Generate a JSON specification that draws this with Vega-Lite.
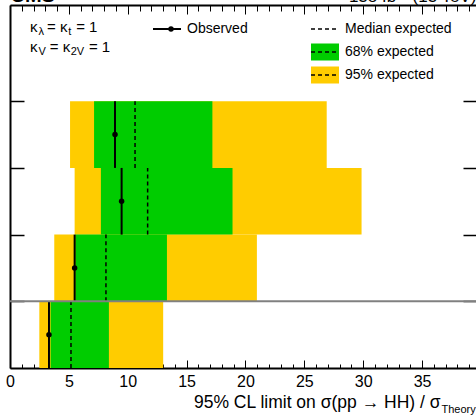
{
  "$schema": "https://vega.github.io/schema/vega-lite/v6.json",
  "width": 466,
  "height": 363,
  "autosize": {"type": "none"},
  "padding": {"left": 10, "top": 5, "right": 0, "bottom": 49},
  "config": {"font": "Liberation Sans", "view": {"stroke": null}, "axis": {"grid": false}},
  "data": {"values": [
    {"row": "A", "slot_lo": 3, "slot_hi": 4, "slot_mid": 3.5, "obs": 8.92, "med": 10.62, "lo68": 7.14, "hi68": 17.19, "lo95": 5.10, "hi95": 26.90},
    {"row": "B", "slot_lo": 2, "slot_hi": 3, "slot_mid": 2.5, "obs": 9.48, "med": 11.69, "lo68": 7.72, "hi68": 18.90, "lo95": 5.49, "hi95": 29.86},
    {"row": "C", "slot_lo": 1, "slot_hi": 2, "slot_mid": 1.5, "obs": 5.49, "med": 8.15, "lo68": 5.55, "hi68": 13.33, "lo95": 3.76, "hi95": 20.97},
    {"row": "D", "slot_lo": 0, "slot_hi": 1, "slot_mid": 0.5, "obs": 3.31, "med": 5.18, "lo68": 3.45, "hi68": 8.40, "lo95": 2.49, "hi95": 13.01}
  ]},
  "resolve": {"axis": {"x": "independent", "y": "independent"}},
  "layer": [
    {
      "mark": {"type": "rect"},
      "encoding": {
        "x": {"field": "lo95", "type": "quantitative",
          "scale": {"domain": [0, 39.58], "nice": false, "zero": false},
          "axis": {"orient": "bottom", "values": [0,1,2,3,4,5,6,7,8,9,10,11,12,13,14,15,16,17,18,19,20,21,22,23,24,25,26,27,28,29,30,31,32,33,34,35,36,37,38,39],
            "labelExpr": "datum.value % 5 === 0 ? datum.label : ''",
            "tickSize": {"condition": {"test": "datum.value % 5 === 0", "value": -8}, "value": -4},
            "tickColor": "black", "tickWidth": 1, "domainColor": "black", "domainWidth": 2,
            "labelFontSize": 16, "labelColor": "black", "labelPadding": 13, "labelFlush": false, "labelOverlap": false,
            "title": "95% CL limit on σ(pp → HH) / σ", "titleFontSize": 17.5, "titleFontWeight": "normal", "titleColor": "black",
            "titleX": 430, "titleY": 39, "titleAlign": "right", "titleBaseline": "alphabetic"}},
        "x2": {"field": "hi95"},
        "y": {"field": "slot_lo", "type": "quantitative",
          "scale": {"domain": [0, 5.443], "nice": false, "zero": false},
          "axis": {"orient": "left", "values": [1,2,3,4], "tickSize": -14, "tickWidth": 1.5, "tickColor": "black", "labels": false,
            "domainColor": "black", "domainWidth": 2,
            "title": "CMS", "titleAngle": 0, "titleX": 0, "titleY": -3.5, "titleAlign": "left", "titleBaseline": "alphabetic",
            "titleFontSize": 20, "titleFontWeight": "bold", "titleColor": "black"}},
        "y2": {"field": "slot_hi"},
        "fill": {"datum": "95% expected",
          "scale": {"domain": ["Median expected", "68% expected", "95% expected"], "range": ["transparent", "#00cc00", "#ffcc00"]},
          "legend": {"title": null, "orient": "none", "legendX": 301, "legendY": 14.5, "symbolType": "M-1,-0.6H1V0.6H-1Z", "symbolSize": 784,
            "symbolStrokeWidth": 0, "clipHeight": 19, "rowPadding": 4, "labelOffset": 6, "labelFontSize": 14, "labelColor": "black",
            "padding": 0, "symbolOffset": 0, "labelLimit": 250}}
      }
    },
    {
      "mark": {"type": "rect"},
      "encoding": {
        "x": {"field": "lo68", "type": "quantitative",
          "axis": {"orient": "top", "values": [0,1,2,3,4,5,6,7,8,9,10,11,12,13,14,15,16,17,18,19,20,21,22,23,24,25,26,27,28,29,30,31,32,33,34,35,36,37,38,39],
            "labels": false,
            "tickSize": {"condition": {"test": "datum.value % 5 === 0", "value": -9}, "value": -6},
            "tickColor": "black", "tickWidth": 1, "domainColor": "black", "domainWidth": 2,
            "title": "138 fb⁻¹ (13 TeV)", "titleFontSize": 17, "titleFontWeight": "normal", "titleColor": "black",
            "titleX": 466, "titleY": -3.5, "titleAlign": "right", "titleBaseline": "alphabetic"}},
        "x2": {"field": "hi68"},
        "y": {"field": "slot_lo", "type": "quantitative",
          "axis": {"orient": "right", "values": [1,2,3,4], "tickSize": -13, "tickWidth": 1.5, "tickColor": "black", "labels": false, "domain": false,
            "title": "Theory", "titleAngle": 0, "titleX": -35, "titleY": 407, "titleAlign": "left", "titleBaseline": "alphabetic",
            "titleFontSize": 11, "titleFontWeight": "normal", "titleColor": "black"}},
        "y2": {"field": "slot_hi"},
        "fill": {"datum": "68% expected"}
      }
    },
    {
      "mark": {"type": "rule", "strokeWidth": 1.5, "color": "black"},
      "encoding": {
        "x": {"field": "med", "type": "quantitative", "axis": null},
        "y": {"field": "slot_lo", "type": "quantitative", "axis": null},
        "y2": {"field": "slot_hi"},
        "strokeDash": {"datum": "d1",
          "scale": {"domain": ["d1", "d2", "d3"], "range": [[4, 3], [4, 3], [4, 3]]},
          "legend": {"title": null, "orient": "none", "legendX": 300, "legendY": 14.5, "symbolType": "stroke", "symbolSize": 784,
            "symbolStrokeWidth": 1.5, "symbolStrokeColor": "black", "clipHeight": 19, "rowPadding": 4, "labelOffset": 6,
            "labelFontSize": 14, "labelExpr": "''", "padding": 0, "symbolOffset": 0, "zindex": 1}}
      }
    },
    {
      "mark": {"type": "rule", "strokeWidth": 2, "color": "black"},
      "encoding": {
        "x": {"field": "obs", "type": "quantitative", "axis": null},
        "y": {"field": "slot_lo", "type": "quantitative", "axis": null},
        "y2": {"field": "slot_hi"},
        "opacity": {"datum": "Observed", "scale": {"domain": ["Observed"], "range": [1]},
          "legend": {"title": null, "orient": "none", "legendX": 142, "legendY": 14.5, "symbolType": "stroke", "symbolSize": 784,
            "symbolStrokeWidth": 2, "symbolStrokeColor": "black", "clipHeight": 19, "labelOffset": 5, "labelFontSize": 14,
            "labelColor": "black", "padding": 0, "symbolOffset": 0}}
      }
    },
    {
      "mark": {"type": "point", "filled": true, "size": 30, "color": "black", "opacity": 1},
      "encoding": {
        "x": {"field": "obs", "type": "quantitative", "axis": null},
        "y": {"field": "slot_mid", "type": "quantitative", "axis": null},
        "shape": {"datum": "dot", "scale": {"domain": ["dot"], "range": ["circle"]},
          "legend": {"title": null, "orient": "none", "legendX": 154, "legendY": 14.5,
            "symbolType": "circle", "symbolSize": 30, "symbolStrokeWidth": 0, "symbolFillColor": "black", "clipHeight": 19,
            "labelOffset": 5, "labelFontSize": 14, "labelExpr": "''", "padding": 0, "symbolOffset": 0, "zindex": 1,
            "encode": {"symbols": {"update": {"fill": {"value": "black"}, "opacity": {"value": 1}}}}}}
      }
    },
    {
      "data": {"values": [{}]},
      "mark": {"type": "rule", "color": "#808080", "strokeWidth": 2},
      "encoding": {"y": {"datum": 1, "type": "quantitative", "axis": null}}
    },
    {
      "data": {"values": [{}]},
      "mark": {"type": "text", "text": "κ", "fontSize": 15, "align": "left", "baseline": "alphabetic", "color": "black"},
      "encoding": {"x": {"datum": 1.699, "type": "quantitative", "axis": null}, "y": {"datum": 5.038, "type": "quantitative", "axis": null}}
    },
    {
      "data": {"values": [{}]},
      "mark": {"type": "text", "text": "λ", "fontSize": 11, "dy": 3, "align": "left", "baseline": "alphabetic", "color": "black"},
      "encoding": {"x": {"datum": 2.421, "type": "quantitative", "axis": null}, "y": {"datum": 5.038, "type": "quantitative", "axis": null}}
    },
    {
      "data": {"values": [{}]},
      "mark": {"type": "text", "text": "= κ", "fontSize": 15, "align": "left", "baseline": "alphabetic", "color": "black"},
      "encoding": {"x": {"datum": 3.142, "type": "quantitative", "axis": null}, "y": {"datum": 5.038, "type": "quantitative", "axis": null}}
    },
    {
      "data": {"values": [{}]},
      "mark": {"type": "text", "text": "t", "fontSize": 11, "dy": 3, "align": "left", "baseline": "alphabetic", "color": "black"},
      "encoding": {"x": {"datum": 4.95, "type": "quantitative", "axis": null}, "y": {"datum": 5.038, "type": "quantitative", "axis": null}}
    },
    {
      "data": {"values": [{}]},
      "mark": {"type": "text", "text": "= 1", "fontSize": 15, "align": "left", "baseline": "alphabetic", "color": "black"},
      "encoding": {"x": {"datum": 5.62, "type": "quantitative", "axis": null}, "y": {"datum": 5.038, "type": "quantitative", "axis": null}}
    },
    {
      "data": {"values": [{}]},
      "mark": {"type": "text", "text": "κ", "fontSize": 15, "align": "left", "baseline": "alphabetic", "color": "black"},
      "encoding": {"x": {"datum": 1.699, "type": "quantitative", "axis": null}, "y": {"datum": 4.738, "type": "quantitative", "axis": null}}
    },
    {
      "data": {"values": [{}]},
      "mark": {"type": "text", "text": "V", "fontSize": 11, "dy": 3, "align": "left", "baseline": "alphabetic", "color": "black"},
      "encoding": {"x": {"datum": 2.421, "type": "quantitative", "axis": null}, "y": {"datum": 4.738, "type": "quantitative", "axis": null}}
    },
    {
      "data": {"values": [{}]},
      "mark": {"type": "text", "text": "= κ", "fontSize": 15, "align": "left", "baseline": "alphabetic", "color": "black"},
      "encoding": {"x": {"datum": 3.380, "type": "quantitative", "axis": null}, "y": {"datum": 4.738, "type": "quantitative", "axis": null}}
    },
    {
      "data": {"values": [{}]},
      "mark": {"type": "text", "text": "2V", "fontSize": 11, "dy": 3, "align": "left", "baseline": "alphabetic", "color": "black"},
      "encoding": {"x": {"datum": 5.15, "type": "quantitative", "axis": null}, "y": {"datum": 4.738, "type": "quantitative", "axis": null}}
    },
    {
      "data": {"values": [{}]},
      "mark": {"type": "text", "text": "= 1", "fontSize": 15, "align": "left", "baseline": "alphabetic", "color": "black"},
      "encoding": {"x": {"datum": 6.70, "type": "quantitative", "axis": null}, "y": {"datum": 4.738, "type": "quantitative", "axis": null}}
    }
  ]
}
